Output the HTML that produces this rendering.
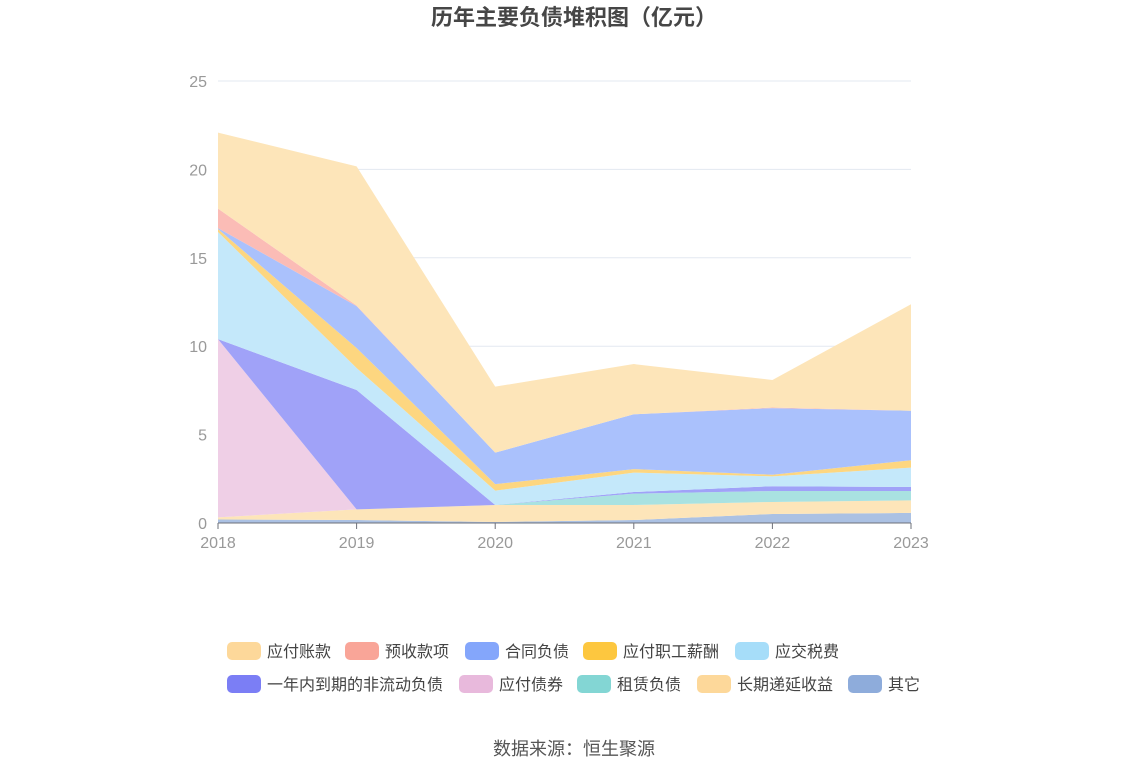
<!DOCTYPE html>
<html><head><meta charset="utf-8"><style>
body{margin:0;background:#fff;font-family:"Liberation Sans","Noto Sans CJK SC",sans-serif;}
#wrap{position:relative;width:1148px;height:776px;overflow:hidden;}
</style></head><body>
<div id="wrap">
<svg id="chart" width="1148" height="776" style="position:absolute;left:0;top:0;font-family:'Liberation Sans','Noto Sans CJK SC',sans-serif;">
<text x="574" y="25" text-anchor="middle" font-size="22" font-weight="bold" fill="#464646">历年主要负债堆积图（亿元）</text>
<g id="grid"></g><g id="areas"></g><g id="axes"></g><g id="legend"></g>
<text x="574" y="755" text-anchor="middle" font-size="18" fill="#555">数据来源：恒生聚源</text>
</svg>
</div>
<script>
const years=["2018","2019","2020","2021","2022","2023"];
const yTicks=[0,5,10,15,20,25];
// bottom to top
const seriesNames=["其它","长期递延收益","租赁负债","应付债券","一年内到期的非流动负债","应交税费","应付职工薪酬","合同负债","预收款项","应付账款"];
const s_other=[0.2,0.17,0.06,0.17,0.51,0.57];
const s_deferred=[0.12,0.6,0.96,0.85,0.68,0.71];
const s_lease=[0,0,0,0.64,0.62,0.53];
const s_bonds=[10.08,0,0,0,0,0];
const s_current=[0,6.75,0,0.09,0.27,0.23];
const s_tax=[6.06,1.25,0.81,1.1,0.56,1.09];
const s_salary=[0.17,1.13,0.37,0.2,0.09,0.42];
const s_contract=[0.05,2.37,1.78,3.1,3.77,2.8];
const s_advance=[1.1,0.03,0,0,0.03,0];
const s_payable=[4.3,7.87,3.73,2.84,1.56,6.02];
const seriesData=[s_other,s_deferred,s_lease,s_bonds,s_current,s_tax,s_salary,s_contract,s_advance,s_payable];
const fills=["#abc1e3","#fde5b9","#a9e2e1","#efcfe6","#a0a2f8","#c4e8fa","#fdd680","#aac1fc","#fbbcb6","#fde5b9"];
const slugs=["other","deferred-income","lease-liabilities","bonds-payable","current-noncurrent","taxes-payable","salary-payable","contract-liabilities","advance-receipts","accounts-payable"];
const legendColors=["#fdd89a","#f9a598","#84a6fb","#fdc73f","#a6ddf9","#7b7ef5","#e8b9dc","#83d6d4","#fdd89a","#8eacdb"];
const legendNames=["应付账款","预收款项","合同负债","应付职工薪酬","应交税费","一年内到期的非流动负债","应付债券","租赁负债","长期递延收益","其它"];
const legendSlugs=["accounts-payable","advance-receipts","contract-liabilities","salary-payable","taxes-payable","current-noncurrent","bonds-payable","lease-liabilities","deferred-income","other"];
const legendPos=[[227,651],[345,651],[465,651],[583,651],[735,651],[227,684],[459,684],[577,684],[697,684],[848,684]];

const NS="http://www.w3.org/2000/svg";
const x0=218,x1=911,yBase=523,yTop=81,yMax=25;
const xs=i=>x0+(x1-x0)*i/(years.length-1);
const ys=v=>yBase-(yBase-yTop)*v/yMax;
function mk(tag,attrs,parent){const e=document.createElementNS(NS,tag);for(const k in attrs)e.setAttribute(k,attrs[k]);parent.appendChild(e);return e;}
const grid=document.getElementById('grid'),areas=document.getElementById('areas'),axes=document.getElementById('axes'),legend=document.getElementById('legend');
yTicks.forEach(t=>{
  if(t>0){const l=mk('line',{x1:x0,x2:x1,y1:ys(t),y2:ys(t),stroke:'#e3e8f1','stroke-width':1},grid);
  
  }
  const tx=mk('text',{x:207,y:ys(t)+6,'text-anchor':'end','font-size':16,fill:'#999'},axes);
  tx.textContent=t;
  
  
});
let cum=years.map(()=>0);
seriesData.forEach((arr,si)=>{
  const lower=cum.slice();const upper=cum.map((c,i)=>c+arr[i]);
  let d='';
  upper.forEach((v,i)=>{d+=(i?'L':'M')+xs(i)+','+ys(v)});
  for(let i=lower.length-1;i>=0;i--)d+='L'+xs(i)+','+ys(lower[i]);
  d+='Z';
  const p=mk('path',{d:d,fill:fills[si]},areas);
  
  
  cum=upper;
});
const ax=mk('line',{x1:x0,x2:x1,y1:yBase,y2:yBase,stroke:'#6e7079','stroke-width':1},axes);


years.forEach((y,i)=>{
  mk('line',{x1:xs(i),x2:xs(i),y1:yBase,y2:yBase+6,stroke:'#6e7079'},axes);
  const t=mk('text',{x:xs(i),y:548,'text-anchor':'middle','font-size':16,fill:'#999'},axes);
  t.textContent=y;
  
  
});
legendNames.forEach((n,i)=>{
  const [lx,ly]=legendPos[i];
  const g=mk('g',{},legend);
  
  
  mk('rect',{x:lx,y:ly-9,width:34,height:18,rx:5,fill:legendColors[i]},g);
  const t=mk('text',{x:lx+40,y:ly+6,'font-size':16,fill:'#444'},g);
  t.textContent=n;
});
</script>
</body></html>
